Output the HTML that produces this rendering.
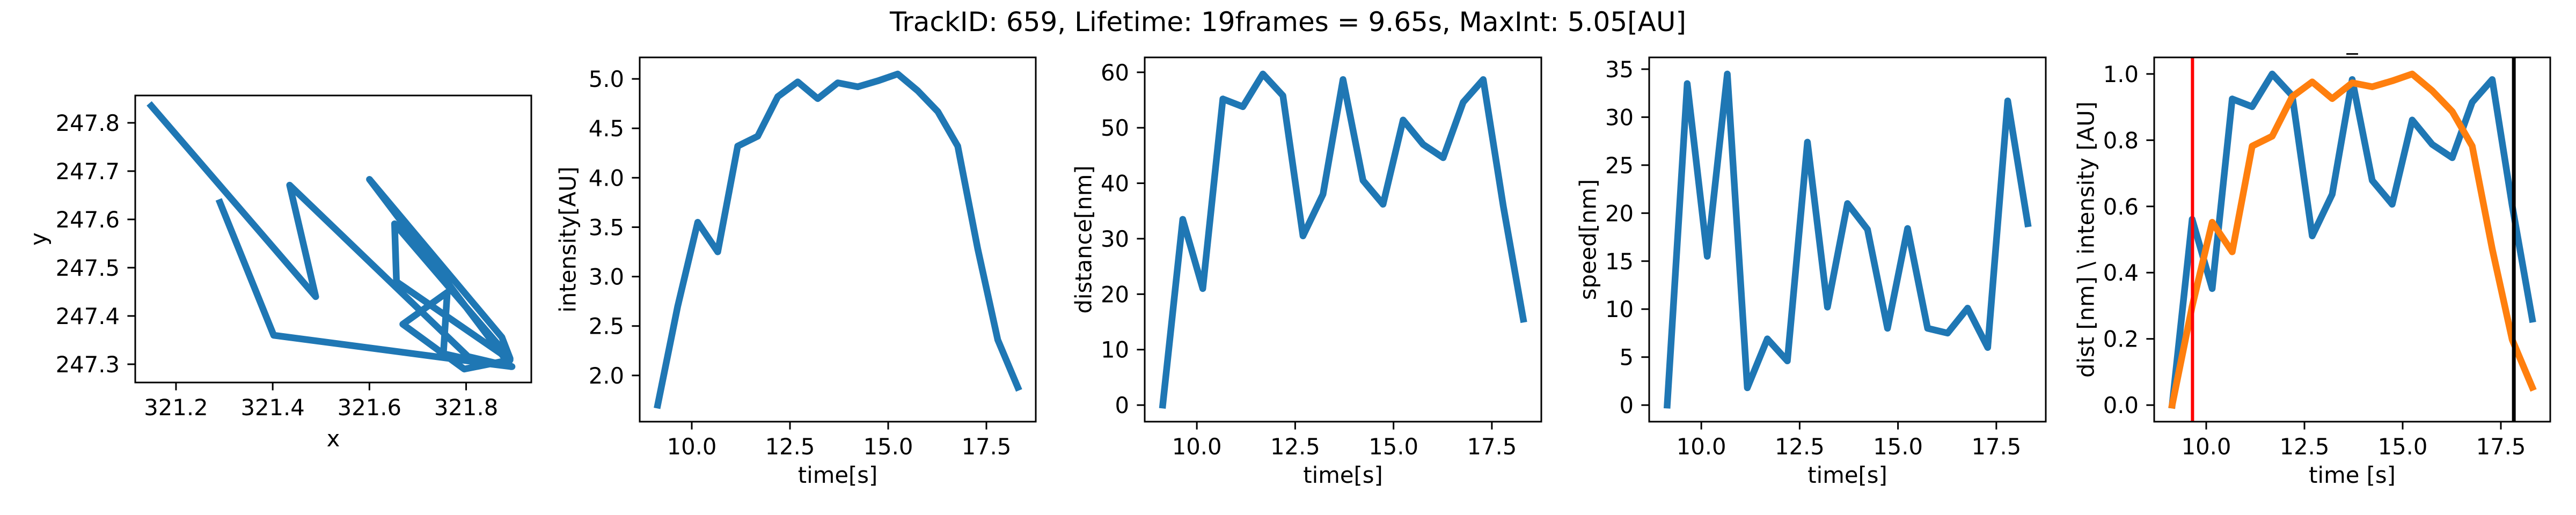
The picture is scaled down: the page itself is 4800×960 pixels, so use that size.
<!DOCTYPE html>
<html><head><meta charset="utf-8"><title>Track 659</title>
<style>
html,body{margin:0;padding:0;background:#fff;}
svg{display:block;font-family:"DejaVu Sans","Liberation Sans",sans-serif;}
</style></head>
<body>
<svg id="fig" width="4800" height="960" viewBox="0 0 4800 960" xmlns="http://www.w3.org/2000/svg">
<rect width="4800" height="960" fill="#fff"/>
<text x="2400" y="58" font-size="50" text-anchor="middle">TrackID: 659, Lifetime: 19frames = 9.65s, MaxInt: 5.05[AU]</text>
<text x="4383" y="92" font-size="42" text-anchor="middle">_</text>
</svg>
<script>
// ---- data ----
const frameCount = 19;
const timeStart = 9.133;
const timeStep = 0.5092;
const trackX = [321.149,321.489,321.435,321.804,321.893,321.600,321.874,321.891,321.652,321.656,321.891,321.796,321.669,321.761,321.753,321.846,321.895,321.402,321.291];
const trackY = [247.835,247.440,247.671,247.316,247.295,247.683,247.356,247.312,247.591,247.471,247.309,247.290,247.383,247.449,247.322,247.301,247.295,247.360,247.635];
const intensity = [1.70,2.70,3.55,3.25,4.32,4.42,4.82,4.97,4.80,4.96,4.92,4.98,5.05,4.88,4.67,4.32,3.28,2.36,1.88];
const distance = [0,33.5,21,55.2,53.8,59.7,55.8,30.5,38,58.7,40.5,36.2,51.4,47,44.6,54.6,58.7,35.9,15.5];
const speed = [0,33.5,15.5,34.5,1.8,6.9,4.6,27.4,10.2,21,18.3,8,18.4,8,7.5,10.1,6,31.7,18.9];
const xTicks1 = [321.2,321.4,321.6,321.8];
const yTicks1 = [247.3,247.4,247.5,247.6,247.7,247.8];
const timeTicks = [10.0,12.5,15.0,17.5];
const intensityTicks = [2.0,2.5,3.0,3.5,4.0,4.5,5.0];
const distanceTicks = [0,10,20,30,40,50,60];
const speedTicks = [0,5,10,15,20,25,30,35];
const normTicks = [0.0,0.2,0.4,0.6,0.8,1.0];
const startMarkerTime = 9.65;
const endMarkerTime = 17.83;

const NS = "http://www.w3.org/2000/svg";
const svg = document.getElementById('fig');
const BLUE = "#1f77b4", ORANGE = "#ff7f0e";

function el(tag, attrs, parent) {
  const e = document.createElementNS(NS, tag);
  for (const k in attrs) e.setAttribute(k, attrs[k]);
  (parent || svg).appendChild(e);
  return e;
}
function fmt(v, d) { return v.toFixed(d); }

const times = [];
for (let i = 0; i < frameCount; i++) times.push(timeStart + i * timeStep);
const tMin = Math.min(...times), tMax = Math.max(...times);
const tPad = (tMax - tMin) * 0.05;

function makeAxis(name, left, top, w, h, xdom, ydom) {
  const g = el('g', {});
  
  
  const sx = v => left + (v - xdom[0]) / (xdom[1] - xdom[0]) * w;
  const sy = v => top + h - (v - ydom[0]) / (ydom[1] - ydom[0]) * h;
  return {g, sx, sy, left, top, w, h};
}
function padDomain(arr) {
  const mn = Math.min(...arr), mx = Math.max(...arr), p = (mx - mn) * 0.05;
  return [mn - p, mx + p];
}
function drawLine(ax, xs, ys, color, name) {
  const pts = xs.map((x, i) => ax.sx(x).toFixed(1) + ',' + ax.sy(ys[i]).toFixed(1)).join(' ');
  const p = el('polyline', {points: pts, fill: 'none', stroke: color, 'stroke-width': 12.5, 'stroke-linejoin': 'round', 'stroke-linecap': 'square'}, ax.g);
  
  
}
function drawFrame(ax, xt, xd, yt, yd, xlabel, ylabel, ylabelX, xlabelY) {
  const clip = el('rect', {x: ax.left, y: ax.top, width: ax.w, height: ax.h, fill: 'none', stroke: '#000', 'stroke-width': 3}, ax.g);
  
  
  const bottom = ax.top + ax.h;
  xt.forEach(v => {
    const x = ax.sx(v);
    el('line', {x1: x, x2: x, y1: bottom, y2: bottom + 14.6, stroke: '#000', 'stroke-width': 3}, ax.g);
    const t = el('text', {x: x, y: bottom + 61, 'font-size': 41.7, 'text-anchor': 'middle'}, ax.g);
    
    
    t.textContent = fmt(v, xd);
  });
  yt.forEach(v => {
    const y = ax.sy(v);
    el('line', {x1: ax.left - 14.6, x2: ax.left, y1: y, y2: y, stroke: '#000', 'stroke-width': 3}, ax.g);
    const t = el('text', {x: ax.left - 29, y: y + 15, 'font-size': 41.7, 'text-anchor': 'end'}, ax.g);
    
    
    t.textContent = fmt(v, yd);
  });
  const xl = el('text', {x: ax.left + ax.w / 2, y: xlabelY, 'font-size': 41.7, 'text-anchor': 'middle'}, ax.g);
  
  
  xl.textContent = xlabel;
  const cy = ax.top + ax.h / 2;
  const yl = el('text', {x: ylabelX, y: cy, 'font-size': 41.7, 'text-anchor': 'middle', 'dominant-baseline': 'central', transform: 'rotate(-90 ' + ylabelX + ' ' + cy + ')'}, ax.g);
  
  
  yl.textContent = ylabel;
}

// Panel 1: trajectory (equal aspect)
const x1dom = [321.1157, 321.1157 + 738 / 901];
const y1dom = [247.2622, 247.2622 + 535 / 900];
const ax1 = makeAxis('trajectory-panel', 252, 178, 738, 535, x1dom, y1dom);
drawLine(ax1, trackX, trackY, BLUE, 'trajectory-line');
drawFrame(ax1, xTicks1, 1, yTicks1, 1, 'x', 'y', 72, 832);

const tdom = [tMin - tPad, tMax + tPad];
const PT = 107, PH = 679;

// Panel 2: intensity
const ax2 = makeAxis('intensity-panel', 1192, PT, 738, PH, tdom, padDomain(intensity));
drawLine(ax2, times, intensity, BLUE, 'intensity-line');
drawFrame(ax2, timeTicks, 1, intensityTicks, 1, 'time[s]', 'intensity[AU]', 1058, 900);

// Panel 3: distance
const ax3 = makeAxis('distance-panel', 2133, PT, 739, PH, tdom, padDomain(distance));
drawLine(ax3, times, distance, BLUE, 'distance-line');
drawFrame(ax3, timeTicks, 1, distanceTicks, 0, 'time[s]', 'distance[nm]', 2019, 900);

// Panel 4: speed
const ax4 = makeAxis('speed-panel', 3073, PT, 739, PH, tdom, padDomain(speed));
drawLine(ax4, times, speed, BLUE, 'speed-line');
drawFrame(ax4, timeTicks, 1, speedTicks, 0, 'time[s]', 'speed[nm]', 2959, 900);

// Panel 5: normalized
const dMin = Math.min(...distance), dMax = Math.max(...distance);
const iMin = Math.min(...intensity), iMax = Math.max(...intensity);
const distNorm = distance.map(v => (v - dMin) / (dMax - dMin));
const intNorm = intensity.map(v => (v - iMin) / (iMax - iMin));
const ax5 = makeAxis('normalized-panel', 4014, PT, 738, PH, tdom, [-0.05, 1.05]);
drawLine(ax5, times, distNorm, BLUE, 'normalized-distance-line');
drawLine(ax5, times, intNorm, ORANGE, 'normalized-intensity-line');
const rl = el('line', {x1: ax5.sx(startMarkerTime), x2: ax5.sx(startMarkerTime), y1: PT, y2: PT + PH, stroke: '#ff0000', 'stroke-width': 6}, ax5.g);


const bl = el('line', {x1: ax5.sx(endMarkerTime), x2: ax5.sx(endMarkerTime), y1: PT, y2: PT + PH, stroke: '#000', 'stroke-width': 7}, ax5.g);


drawFrame(ax5, timeTicks, 1, normTicks, 1, 'time [s]', 'dist [nm] \\ intensity [AU]', 3887, 900);
</script>
</body></html>
